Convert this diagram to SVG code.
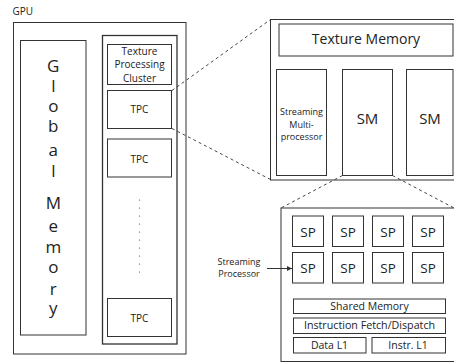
<svg xmlns="http://www.w3.org/2000/svg" width="454" height="363" viewBox="0 0 454 363">
  <style>
    .box{fill:none;stroke:#333;stroke-width:1}
    .t{font-family:"Open Sans","Liberation Sans",sans-serif;fill:#222;text-anchor:middle}
    .dash{fill:none;stroke:#333;stroke-width:0.9;stroke-dasharray:3 3}
    .dot{fill:#444}
  </style>
  <defs>
    <marker id="arr" viewBox="0 0 6 6" refX="6" refY="3" markerWidth="5" markerHeight="5" orient="auto" markerUnits="userSpaceOnUse">
      <path d="M0,0 L6,3 L0,6 z" fill="#333"/>
    </marker>
  </defs>
  <rect x="0" y="0" width="454" height="363" fill="#fff"/>

  <g id="gpu">
    <text class="t" x="12.5" y="15" style="text-anchor:start" font-size="10">GPU</text>
    <rect class="box" x="13.5" y="22.5" width="172.5" height="331.5"/>
  </g>

  <g id="global-memory">
    <rect class="box" x="20.5" y="40.5" width="65.5" height="294.5"/>
    <g class="t" font-size="17">
      <text x="53.3" y="72">G</text>
      <text x="53.3" y="92">l</text>
      <text x="53.3" y="111.5">o</text>
      <text x="53.3" y="132">b</text>
      <text x="53.3" y="155.5">a</text>
      <text x="53.3" y="177">l</text>
      <text x="53.3" y="209">M</text>
      <text x="53.3" y="232">e</text>
      <text x="53.3" y="253">m</text>
      <text x="53.3" y="272.5">o</text>
      <text x="53.3" y="295">r</text>
      <text x="53.3" y="314">y</text>
    </g>
  </g>

  <g id="tpc-column">
    <rect class="box" x="102.5" y="35.5" width="74.5" height="308.5" style="stroke-width:1.3"/>
  </g>

  <g id="tpc-label">
    <rect class="box" x="107.5" y="44.5" width="64" height="40"/>
    <g class="t" font-size="10">
      <text x="139.5" y="55">Texture</text>
      <text x="139.5" y="68">Processing</text>
      <text x="139.5" y="82">Cluster</text>
    </g>
  </g>

  <g id="tpc1">
    <rect class="box" x="107.5" y="90.5" width="64" height="38"/>
    <text class="t" x="139.5" y="113" font-size="10">TPC</text>
  </g>

  <g id="tpc2">
    <rect class="box" x="107.5" y="139" width="64" height="38"/>
    <text class="t" x="139.5" y="163" font-size="10">TPC</text>
  </g>

  <g id="ellipsis">
    <circle class="dot" cx="139.5" cy="200" r="0.6"/>
    <circle class="dot" cx="139.5" cy="208" r="0.6"/>
    <circle class="dot" cx="139.5" cy="216" r="0.6"/>
    <circle class="dot" cx="139.5" cy="224" r="0.6"/>
    <circle class="dot" cx="139.5" cy="232" r="0.6"/>
    <circle class="dot" cx="139.5" cy="240" r="0.6"/>
    <circle class="dot" cx="139.5" cy="248" r="0.6"/>
    <circle class="dot" cx="139.5" cy="256" r="0.6"/>
    <circle class="dot" cx="139.5" cy="264" r="0.6"/>
    <circle class="dot" cx="139.5" cy="272" r="0.6"/>
  </g>

  <g id="tpc-last">
    <rect class="box" x="107.5" y="298.5" width="64" height="38"/>
    <text class="t" x="139.5" y="321.5" font-size="10">TPC</text>
  </g>

  <g id="tpc-detail">
    <rect class="box" x="270.5" y="19.5" width="200" height="160.5"/>
  </g>

  <g id="texture-memory">
    <rect class="box" x="279" y="24" width="174" height="32"/>
    <text class="t" x="366" y="44" font-size="14">Texture Memory</text>
  </g>

  <g id="sm1">
    <rect class="box" x="276.5" y="69.5" width="50" height="106"/>
    <g class="t" font-size="9">
      <text x="301.5" y="114.5">Streaming</text>
      <text x="301.5" y="127.5">Multi-</text>
      <text x="301.5" y="140">processor</text>
    </g>
  </g>

  <g id="sm2">
    <rect class="box" x="342.5" y="69.5" width="50" height="106"/>
    <text class="t" x="367.5" y="124" font-size="15">SM</text>
  </g>

  <g id="sm3">
    <rect class="box" x="406.5" y="69.5" width="46.5" height="106"/>
    <text class="t" x="430" y="124" font-size="15">SM</text>
  </g>

  <g id="sm-detail">
    <rect class="box" x="281" y="208" width="200" height="153.5"/>
  </g>

  <g id="sp-grid" class="t" font-size="13.5">
    <rect class="box" x="292.5" y="216" width="31" height="30.5"/>
    <text x="308" y="236.5">SP</text>
    <rect class="box" x="332.5" y="216" width="31" height="30.5"/>
    <text x="348" y="236.5">SP</text>
    <rect class="box" x="372.5" y="216" width="31" height="30.5"/>
    <text x="388" y="236.5">SP</text>
    <rect class="box" x="412.5" y="216" width="31" height="30.5"/>
    <text x="428" y="236.5">SP</text>
    <rect class="box" x="292.5" y="252.5" width="31" height="30.5"/>
    <text x="308" y="273">SP</text>
    <rect class="box" x="332.5" y="252.5" width="31" height="30.5"/>
    <text x="348" y="273">SP</text>
    <rect class="box" x="372.5" y="252.5" width="31" height="30.5"/>
    <text x="388" y="273">SP</text>
    <rect class="box" x="412.5" y="252.5" width="31" height="30.5"/>
    <text x="428" y="273">SP</text>
  </g>

  <g id="shared-memory">
    <rect class="box" x="293.5" y="299" width="152" height="14.5"/>
    <text class="t" x="369.5" y="310" font-size="10.5">Shared Memory</text>
  </g>

  <g id="instruction-fetch">
    <rect class="box" x="293.5" y="318" width="152" height="15.5"/>
    <text class="t" x="369.5" y="329" font-size="10.7">Instruction Fetch/Dispatch</text>
  </g>

  <g id="data-l1">
    <rect class="box" x="293.5" y="337.5" width="72.5" height="15.5"/>
    <text class="t" x="329.5" y="348.5" font-size="10.5">Data L1</text>
  </g>

  <g id="instr-l1">
    <rect class="box" x="372" y="337.5" width="73.5" height="15.5"/>
    <text class="t" x="408" y="348.5" font-size="10.5">Instr. L1</text>
  </g>

  <g id="sp-label" class="t" font-size="9">
    <text x="239" y="265">Streaming</text>
    <text x="239" y="277">Processor</text>
  </g>

  <g id="connectors">
    <line class="dash" x1="172" y1="90.5" x2="270.5" y2="19.5"/>
    <line class="dash" x1="172" y1="128.5" x2="270.5" y2="179.5"/>
    <line class="dash" x1="342.5" y1="175.5" x2="281" y2="208"/>
    <line class="dash" x1="392.5" y1="175.5" x2="456" y2="209"/>
    <line x1="267" y1="268.5" x2="292" y2="268.5" stroke="#333" stroke-width="1" marker-end="url(#arr)"/>
  </g>
</svg>
